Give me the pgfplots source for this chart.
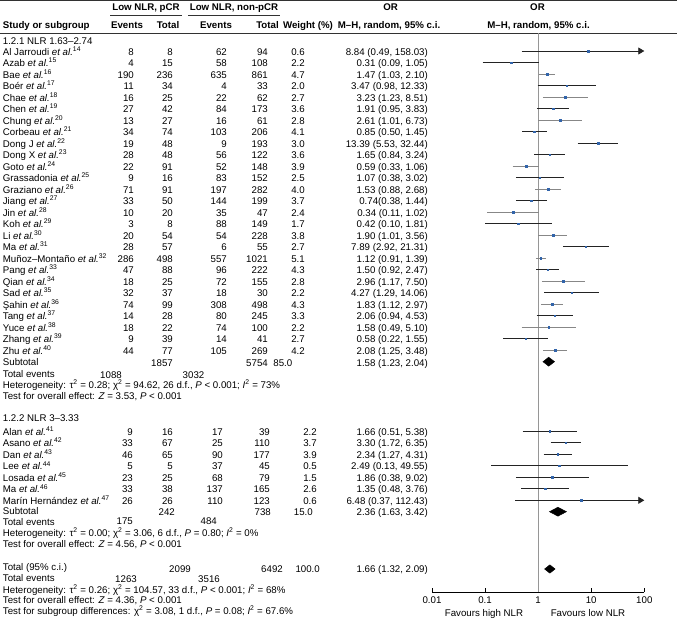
\documentclass[border=0pt]{standalone}
\usepackage{fontspec}
\setmainfont{Liberation Sans}
\usepackage{pgfplots}
\pgfplotsset{compat=1.18}
\usetikzlibrary{arrows.meta}

\definecolor{ptblue}{RGB}{50,100,170}
\definecolor{cik}{RGB}{35,35,35}
\definecolor{cig}{RGB}{135,135,135}
\definecolor{vl}{RGB}{150,150,150}
\definecolor{rule}{RGB}{50,50,50}

\newcommand\et{\textit{et al.}}
\newcommand\rf[1]{\textsuperscript{#1}}
% column right edges: pCR events, pCR total, non-pCR events, non-pCR total, weight
\def\cA{134}\def\cB{173}\def\cC{227}\def\cD{268}\def\cE{305}
% one study row: baseline, name, four counts, weight, OR text
\newcommand\st[8]{%
  \node[anchor=base west] at (2.7,#1) {#2};
  \node[anchor=base east] at (\cA,#1) {#3};
  \node[anchor=base east] at (\cB,#1) {#4};
  \node[anchor=base east] at (\cC,#1) {#5};
  \node[anchor=base east] at (\cD,#1) {#6};
  \node[anchor=base east] at (\cE,#1) {#7};
  \node[anchor=base east] at (428,#1) {#8};}

\begin{document}
\fontsize{9.7}{11.5}\selectfont
\begin{tikzpicture}
\begin{scope}[x=1pt,y=-1pt,every node/.style={inner sep=0pt}]
\useasboundingbox (0,0) rectangle (677,621);

% header
\draw[rule,line width=0.8pt] (0,0.6) -- (677,0.6);
\draw[rule,line width=0.7pt] (0,33.3) -- (677,33.3);
\draw[rule,line width=0.6pt] (110,15) -- (182,15);
\draw[rule,line width=0.6pt] (188,15) -- (280,15);
\node[anchor=base] at (146,10.5) {\bfseries Low NLR, pCR};
\node[anchor=base] at (234,10.5) {\bfseries Low NLR, non-pCR};
\node[anchor=base] at (390.7,10) {\bfseries OR};
\node[anchor=base] at (537.5,10) {\bfseries OR};
\node[anchor=base west] at (2.7,28) {\bfseries Study or subgroup};
\node[anchor=base] at (127,28) {\bfseries Events};
\node[anchor=base] at (168,28) {\bfseries Total};
\node[anchor=base] at (216,28) {\bfseries Events};
\node[anchor=base] at (267.5,28) {\bfseries Total};
\node[anchor=base] at (308,28) {\bfseries Weight (\%)};
\node[anchor=base] at (389,28) {\bfseries M–H, random, 95\% c.i.};
\node[anchor=base] at (538.5,28) {\bfseries M–H, random, 95\% c.i.};

% subgroup 1
\node[anchor=base west] at (2.7,44) {1.2.1 NLR 1.63–2.74};
\st{55}{Al Jarroudi \et\rf{14}}{8}{8}{62}{94}{0.6}{8.84 (0.49, 158.03)}
\st{66.5}{Azab \et\rf{15}}{4}{15}{58}{108}{2.2}{0.31 (0.09, 1.05)}
\st{78}{Bae \et\rf{16}}{190}{236}{635}{861}{4.7}{1.47 (1.03, 2.10)}
\st{89.5}{Boér \et\rf{17}}{11}{34}{4}{33}{2.0}{3.47 (0.98, 12.33)}
\st{101}{Chae \et\rf{18}}{16}{25}{22}{62}{2.7}{3.23 (1.23, 8.51)}
\st{112.5}{Chen \et\rf{19}}{27}{42}{84}{173}{3.6}{1.91 (0.95, 3.83)}
\st{124}{Chung \et\rf{20}}{13}{27}{16}{61}{2.8}{2.61 (1.01, 6.73)}
\st{135.5}{Corbeau \et\rf{21}}{34}{74}{103}{206}{4.1}{0.85 (0.50, 1.45)}
\st{147}{Dong J \et\rf{22}}{19}{48}{9}{193}{3.0}{13.39 (5.53, 32.44)}
\st{158.5}{Dong X \et\rf{23}}{28}{48}{56}{122}{3.6}{1.65 (0.84, 3.24)}
\st{170}{Goto \et\rf{24}}{22}{91}{52}{148}{3.9}{0.59 (0.33, 1.06)}
\st{181.5}{Grassadonia \et\rf{25}}{9}{16}{83}{152}{2.5}{1.07 (0.38, 3.02)}
\st{193}{Graziano \et\rf{26}}{71}{91}{197}{282}{4.0}{1.53 (0.88, 2.68)}
\st{204.5}{Jiang \et\rf{27}}{33}{50}{144}{199}{3.7}{0.74(0.38, 1.44)}
\st{216}{Jin \et\rf{28}}{10}{20}{35}{47}{2.4}{0.34 (0.11, 1.02)}
\st{227.5}{Koh \et\rf{29}}{3}{8}{88}{149}{1.7}{0.42 (0.10, 1.81)}
\st{239}{Li \et\rf{30}}{20}{54}{54}{228}{3.8}{1.90 (1.01, 3.56)}
\st{250.5}{Ma \et\rf{31}}{28}{57}{6}{55}{2.7}{7.89 (2.92, 21.31)}
\st{262}{Muñoz–Montaño \et\rf{32}}{286}{498}{557}{1021}{5.1}{1.12 (0.91, 1.39)}
\st{273.5}{Pang \et\rf{33}}{47}{88}{96}{222}{4.3}{1.50 (0.92, 2.47)}
\st{285}{Qian \et\rf{34}}{18}{25}{72}{155}{2.8}{2.96 (1.17, 7.50)}
\st{296.5}{Sad \et\rf{35}}{32}{37}{18}{30}{2.2}{4.27 (1.29, 14.06)}
\st{308}{Şahin \et\rf{36}}{74}{99}{308}{498}{4.3}{1.83 (1.12, 2.97)}
\st{319.5}{Tang \et\rf{37}}{14}{28}{80}{245}{3.3}{2.06 (0.94, 4.53)}
\st{331}{Yuce \et\rf{38}}{18}{22}{74}{100}{2.2}{1.58 (0.49, 5.10)}
\st{342.5}{Zhang \et\rf{39}}{9}{39}{14}{41}{2.7}{0.58 (0.22, 1.55)}
\st{354}{Zhu \et\rf{40}}{44}{77}{105}{269}{4.2}{2.08 (1.25, 3.48)}
\node[anchor=base west] at (2.7,365.5) {Subtotal};
\node[anchor=base east] at (173,366.5) {1857};
\node[anchor=base east] at (268,366.5) {5754};
\node[anchor=base east] at (292.5,366.5) {85.0};
\node[anchor=base east] at (428,366.5) {1.58 (1.23, 2.04)};
\node[anchor=base west] at (2.7,377) {Total events};
\node[anchor=base east] at (122,378) {1088};
\node[anchor=base east] at (204.5,378) {3032};
\node[anchor=base west] at (2.7,388.5) {Heterogeneity: τ\textsuperscript{2} = 0.28; χ\textsuperscript{2} = 94.62, 26 d.f., \textit{P} < 0.001; \textit{I}\textsuperscript{2} = 73\%};
\node[anchor=base west] at (2.7,399.5) {Test for overall effect: \textit{Z} = 3.53, \textit{P} < 0.001};

% subgroup 2
\def\cA{133}\def\cB{173}\def\cC{223}\def\cD{270}\def\cE{317}
\node[anchor=base west] at (2.7,421.7) {1.2.2 NLR 3–3.33};
\st{435}{Alan \et\rf{41}}{9}{16}{17}{39}{2.2}{1.66 (0.51, 5.38)}
\st{446.5}{Asano \et\rf{42}}{33}{67}{25}{110}{3.7}{3.30 (1.72, 6.35)}
\st{458.3}{Dan \et\rf{43}}{46}{65}{90}{177}{3.9}{2.34 (1.27, 4.31)}
\st{469.8}{Lee \et\rf{44}}{5}{5}{37}{45}{0.5}{2.49 (0.13, 49.55)}
\st{481.2}{Losada \et\rf{45}}{23}{25}{68}{79}{1.5}{1.86 (0.38, 9.02)}
\st{492.8}{Ma \et\rf{46}}{33}{38}{137}{165}{2.6}{1.35 (0.48, 3.76)}
\st{504.3}{Marín Hernández \et\rf{47}}{26}{26}{110}{123}{0.6}{6.48 (0.37, 112.43)}
\node[anchor=base west] at (2.7,514.5) {Subtotal};
\node[anchor=base east] at (175,515.5) {242};
\node[anchor=base east] at (271,515.5) {738};
\node[anchor=base east] at (313,515.5) {15.0};
\node[anchor=base east] at (428,515.5) {2.36 (1.63, 3.42)};
\node[anchor=base west] at (2.7,525.5) {Total events};
\node[anchor=base east] at (133,524) {175};
\node[anchor=base east] at (217,524) {484};
\node[anchor=base west] at (2.7,536.5) {Heterogeneity: τ\textsuperscript{2} = 0.00; χ\textsuperscript{2} = 3.06, 6 d.f., \textit{P} = 0.80; \textit{I}\textsuperscript{2} = 0\%};
\node[anchor=base west] at (2.7,547.5) {Test for overall effect: \textit{Z} = 4.56, \textit{P} < 0.001};

% overall
\node[anchor=base west] at (2.7,570.5) {Total (95\% c.i.)};
\node[anchor=base east] at (191,572) {2099};
\node[anchor=base east] at (283,572) {6492};
\node[anchor=base east] at (320,572) {100.0};
\node[anchor=base east] at (428,572) {1.66 (1.32, 2.09)};
\node[anchor=base west] at (2.7,581.5) {Total events};
\node[anchor=base east] at (137,582) {1263};
\node[anchor=base east] at (220,582) {3516};
\node[anchor=base west] at (2.7,593) {Heterogeneity: τ\textsuperscript{2} = 0.26; χ\textsuperscript{2} = 104.57, 33 d.f., \textit{P} < 0.001; \textit{I}\textsuperscript{2} = 68\%};
\node[anchor=base west] at (2.7,603.4) {Test for overall effect: \textit{Z} = 4.36, \textit{P} < 0.001};
\node[anchor=base west] at (2.7,614.5) {Test for subgroup differences: χ\textsuperscript{2} = 3.08, 1 d.f., \textit{P} = 0.08; \textit{I}\textsuperscript{2} = 67.6\%};

\node[anchor=base] at (484,616) {Favours high NLR};
\node[anchor=base] at (588,616) {Favours low NLR};
\end{scope}

\begin{axis}[
    at={(432pt,-592pt)}, anchor=south west,
    scale only axis, width=212.3pt, height=559pt,
    xmode=log, xmin=0.01, xmax=100,
    ymin=-592, ymax=-33,
    axis x line=bottom, axis y line=none,
    x axis line style={-, black, line width=0.6pt},
    xtick={0.01,0.1,1,10,100},
    xticklabels={0.01,0.1,1,10,100},
    xminorticks=false,
    tick align=inside, major tick length=4.3pt,
    xtick style={black, line width=0.6pt},
    xticklabel style={inner sep=0pt, yshift=-4.3pt},
    clip=false,
]
% line of no effect
\addplot[vl, line width=1.3pt] coordinates {(1,-33.3) (1,-591.7)};

% confidence intervals, subgroup 1
\addplot[cik, line width=0.8pt, -{Triangle[length=6pt,width=7pt]}] coordinates {(0.49,-51) (100,-51)};
\addplot[cik, line width=0.8pt] coordinates {(0.09,-62.5) (1.05,-62.5)};
\addplot[cig, line width=0.8pt] coordinates {(1.03,-74) (2.10,-74)};
\addplot[cik, line width=0.8pt] coordinates {(0.98,-85.5) (12.33,-85.5)};
\addplot[cig, line width=0.8pt] coordinates {(1.23,-97) (8.51,-97)};
\addplot[cik, line width=0.8pt] coordinates {(0.95,-108.5) (3.83,-108.5)};
\addplot[cig, line width=0.8pt] coordinates {(1.01,-120) (6.73,-120)};
\addplot[cik, line width=0.8pt] coordinates {(0.50,-131.5) (1.45,-131.5)};
\addplot[cik, line width=0.8pt] coordinates {(5.53,-143) (32.44,-143)};
\addplot[cik, line width=0.8pt] coordinates {(0.84,-154.5) (3.24,-154.5)};
\addplot[cig, line width=0.8pt] coordinates {(0.33,-166) (1.06,-166)};
\addplot[cik, line width=0.8pt] coordinates {(0.38,-177.5) (3.02,-177.5)};
\addplot[cig, line width=0.8pt] coordinates {(0.88,-189) (2.68,-189)};
\addplot[cik, line width=0.8pt] coordinates {(0.38,-200.5) (1.44,-200.5)};
\addplot[cig, line width=0.8pt] coordinates {(0.11,-212) (1.02,-212)};
\addplot[cik, line width=0.8pt] coordinates {(0.10,-223.5) (1.81,-223.5)};
\addplot[cig, line width=0.8pt] coordinates {(1.01,-235) (3.56,-235)};
\addplot[cik, line width=0.8pt] coordinates {(2.92,-246.5) (21.31,-246.5)};
\addplot[cig, line width=0.8pt] coordinates {(0.91,-258) (1.39,-258)};
\addplot[cik, line width=0.8pt] coordinates {(0.92,-269.5) (2.47,-269.5)};
\addplot[cig, line width=0.8pt] coordinates {(1.17,-281) (7.50,-281)};
\addplot[cik, line width=0.8pt] coordinates {(1.29,-292.5) (14.06,-292.5)};
\addplot[cig, line width=0.8pt] coordinates {(1.12,-304) (2.97,-304)};
\addplot[cik, line width=0.8pt] coordinates {(0.94,-315.5) (4.53,-315.5)};
\addplot[cig, line width=0.8pt] coordinates {(0.49,-327) (5.10,-327)};
\addplot[cik, line width=0.8pt] coordinates {(0.22,-338.5) (1.55,-338.5)};
\addplot[cig, line width=0.8pt] coordinates {(1.25,-350) (3.48,-350)};

% confidence intervals, subgroup 2
\addplot[cik, line width=0.8pt] coordinates {(0.51,-431) (5.38,-431)};
\addplot[cik, line width=0.8pt] coordinates {(1.72,-442.5) (6.35,-442.5)};
\addplot[cik, line width=0.8pt] coordinates {(1.27,-454.3) (4.31,-454.3)};
\addplot[cik, line width=0.8pt] coordinates {(0.13,-465.8) (49.55,-465.8)};
\addplot[cik, line width=0.8pt] coordinates {(0.38,-477.2) (9.02,-477.2)};
\addplot[cik, line width=0.8pt] coordinates {(0.48,-488.8) (3.76,-488.8)};
\addplot[cik, line width=0.8pt, -{Triangle[length=6pt,width=7pt]}] coordinates {(0.37,-500.3) (100,-500.3)};

% point estimates
\addplot[only marks, mark=square*, mark size=0.8pt, ptblue] coordinates {
  (8.84,-51) (0.31,-62.5) (1.47,-74) (3.47,-85.5) (3.23,-97) (1.91,-108.5)
  (2.61,-120) (0.85,-131.5) (13.39,-143) (1.65,-154.5) (0.59,-166)
  (1.07,-177.5) (1.53,-189) (0.74,-200.5) (0.34,-212) (0.42,-223.5)
  (1.90,-235) (7.89,-246.5) (1.12,-258) (1.50,-269.5) (2.96,-281)
  (4.27,-292.5) (1.83,-304) (2.06,-315.5) (1.58,-327) (0.58,-338.5)
  (2.08,-350)
  (1.66,-431) (3.30,-442.5) (2.34,-454.3) (2.49,-465.8) (1.86,-477.2)
  (1.35,-488.8) (6.48,-500.3)};

% pooled estimates
\addplot[fill=black, draw=black] coordinates {(1.23,-361.7) (1.58,-357.2) (2.04,-361.7) (1.58,-366.2)} --cycle;
\addplot[fill=black, draw=black] coordinates {(1.63,-511.7) (2.36,-507.2) (3.42,-511.7) (2.36,-516.2)} --cycle;
\addplot[fill=black, draw=black] coordinates {(1.32,-569) (1.66,-564.8) (2.09,-569) (1.66,-573.2)} --cycle;
\end{axis}
\end{tikzpicture}
\end{document}
